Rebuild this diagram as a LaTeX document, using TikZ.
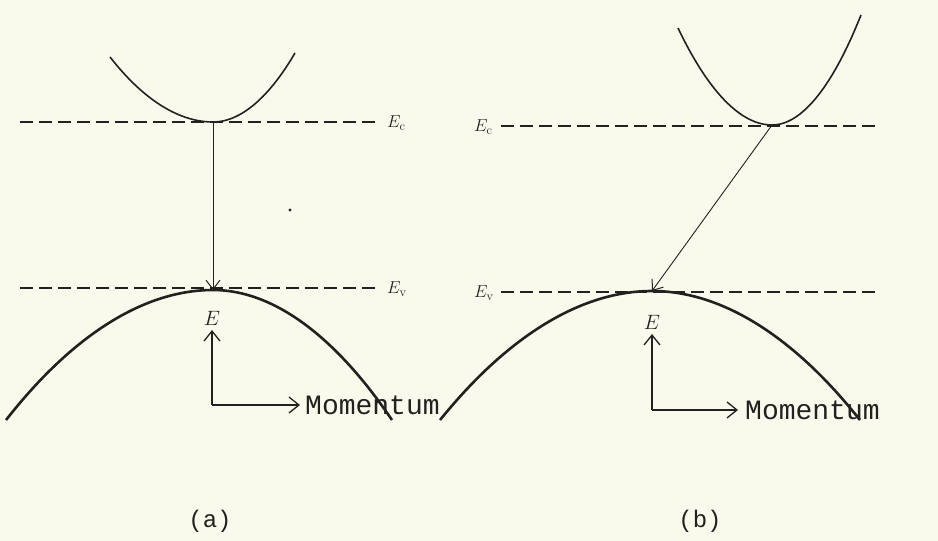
\documentclass[tikz,border=0pt]{standalone}
\usepackage{fontspec}
\setmonofont{Liberation Mono}
\usetikzlibrary{arrows.meta}
\definecolor{paper}{RGB}{250,250,236}
\definecolor{ink}{RGB}{35,32,32}
\tikzset{
  band/.style={draw=ink, line width=1.6pt},
  vband/.style={draw=ink, line width=2.6pt},
  level/.style={draw=ink, line width=1.6pt, dash pattern=on 13pt off 6pt},
  trans/.style={draw=ink, line width=0.9pt, -{Straight Barb[length=9pt,width=14pt,line width=1pt]}},
  axis/.style={draw=ink, line width=1.1pt, -{Straight Barb[length=10pt,width=16pt,line width=1.3pt]}},
  lvl/.style={font=\fontsize{18}{20}\selectfont, text=ink, inner sep=0pt},
  elab/.style={font=\fontsize{20}{22}\selectfont, text=ink, inner sep=0pt},
  mom/.style={font=\ttfamily\fontsize{28}{30}\selectfont, text=ink, inner sep=0pt, anchor=west},
  panellabel/.style={font=\ttfamily\fontsize{24}{26}\selectfont, text=ink, inner sep=0pt}
}
\begin{document}
\begin{tikzpicture}[x=1pt,y=-1pt]
\fill[paper] (0,0) rectangle (938,541);
\useasboundingbox (0,0) rectangle (938,541);

% ---------- panel (a) ----------
\coordinate (ca) at (213,122);
\coordinate (va) at (213,290);
\draw[band] (110,57) parabola bend (ca) (295,53);
\draw[level] (20,122) -- (376,122);
\draw[level] (20,288) -- (376,288);
\node[lvl, anchor=west] (Eca) at (387,123) {$E_{\mathrm{c}}$};
\node[lvl, anchor=west] (Eva) at (387,289) {$E_{\mathrm{v}}$};
\draw[vband] (6,420) parabola bend (va) (392,420);
\draw[trans] (ca) -- (va);
\fill[ink] (290,210) circle (1.6pt);
\node[elab] (Ea) at (212,318) {$E$};
\coordinate (oa) at (212,405);
\coordinate (ya) at (212,330);
\coordinate (xa) at (300,405);
\draw[axis] (oa) -- (ya);
\draw[axis] (oa) -- (xa);
\node[mom] (ma) at (305,405) {Momentum};
\node[panellabel] (la) at (210,521) {(a)};

% ---------- panel (b) ----------
\coordinate (cb) at (772,125);
\coordinate (vb) at (652,291);
\draw[band] (678,28) parabola bend (cb) (861,15);
\draw[level] (501,126) -- (880,126);
\draw[level] (501,292) -- (880,292);
\node[lvl, anchor=west] (Ecb) at (474,127) {$E_{\mathrm{c}}$};
\node[lvl, anchor=west] (Evb) at (474,293) {$E_{\mathrm{v}}$};
\draw[vband] (440,420) parabola bend (vb) (860,420);
\draw[trans] (cb) -- (vb);
\node[elab] (Eb) at (652,322) {$E$};
\coordinate (ob) at (652,410);
\coordinate (yb) at (652,334);
\coordinate (xb) at (738,410);
\draw[axis] (ob) -- (yb);
\draw[axis] (ob) -- (xb);
\node[mom] (mb) at (745,410) {Momentum};
\node[panellabel] (lb) at (700,521) {(b)};
\end{tikzpicture}
\end{document}
